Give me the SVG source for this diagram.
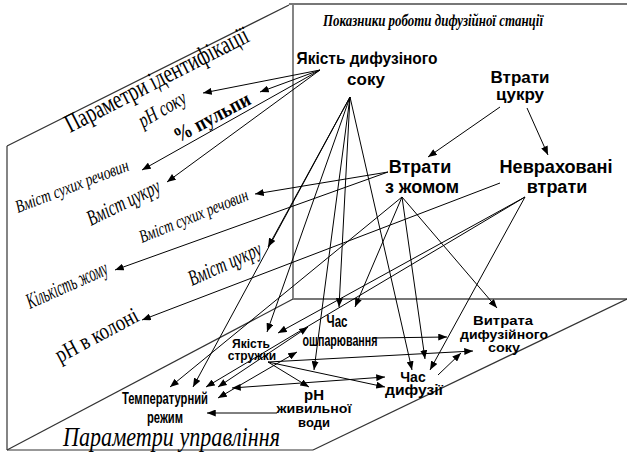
<svg xmlns="http://www.w3.org/2000/svg" width="627" height="453" viewBox="0 0 627 453">
<style>
.pl{stroke:#333;stroke-width:1.2;fill:none}
.pg{stroke:#777;stroke-width:2;fill:none}
.c line{stroke:#000;stroke-width:1;fill:none;marker-end:url(#ah)}
.c line.d{marker-start:url(#ah)}
.sr{font-family:"Liberation Serif","Times New Roman",serif;fill:#000}
.it{font-style:italic}
.ss{font-family:"Liberation Sans",Arial,sans-serif;font-weight:bold;fill:#000;text-anchor:middle}
</style>
<defs>
<marker id="ah" viewBox="0 0 10 8" refX="10" refY="4" markerWidth="9" markerHeight="7" markerUnits="userSpaceOnUse" orient="auto-start-reverse"><path d="M0,0 L10,4 L0,8 z" fill="#000"/></marker>
</defs>
<rect width="627" height="453" fill="#fff"/>
<g id="planes">
<line class="pl" x1="7" y1="146" x2="289" y2="5"/>
<line class="pg" x1="289" y1="4" x2="627" y2="4"/>
<line class="pl" x1="293" y1="5" x2="293" y2="299"/>
<line class="pl" x1="7" y1="146" x2="7" y2="450"/>
<line class="pl" x1="7" y1="450" x2="293" y2="299"/>
<line class="pg" x1="293" y1="299" x2="627" y2="299"/>
<line class="pl" x1="627" y1="299" x2="313" y2="450"/>
<line class="pl" x1="7" y1="450" x2="313" y2="450"/>
</g>
<g id="plane-labels">
<text class="sr it" font-weight="bold" font-size="17" x="323" y="26" textLength="220" lengthAdjust="spacingAndGlyphs">Показники роботи дифузійної станції</text>
<text class="sr" font-size="26" transform="translate(70,133) rotate(-27)" textLength="203" lengthAdjust="spacingAndGlyphs">Параметри ідентифікації</text>
<text class="sr it" font-size="28" x="63" y="446" textLength="217" lengthAdjust="spacingAndGlyphs">Параметри управління</text>
</g>
<g id="ident-labels">
<text class="sr it" font-size="21" transform="translate(143,128) rotate(-30)" textLength="52" lengthAdjust="spacingAndGlyphs">pH соку</text>
<text class="sr" font-weight="bold" font-size="21" transform="translate(178,143) rotate(-28)" textLength="84" lengthAdjust="spacingAndGlyphs">% пульпи</text>
<text class="sr it" font-size="18" transform="translate(18,213) rotate(-21)" textLength="120" lengthAdjust="spacingAndGlyphs">Вміст сухих речовин</text>
<text class="sr it" font-size="22" transform="translate(91,226) rotate(-26)" textLength="79" lengthAdjust="spacingAndGlyphs">Вміст цукру</text>
<text class="sr it" font-size="18" transform="translate(142,243) rotate(-22)" textLength="116" lengthAdjust="spacingAndGlyphs">Вміст сухих речовин</text>
<text class="sr it" font-size="22" transform="translate(30,309) rotate(-24)" textLength="87" lengthAdjust="spacingAndGlyphs">Кількість жому</text>
<text class="sr it" font-size="22" transform="translate(192,286) rotate(-24)" textLength="78" lengthAdjust="spacingAndGlyphs">Вміст цукру</text>
<text class="sr" font-size="23" transform="translate(60,363) rotate(-28)" textLength="91" lengthAdjust="spacingAndGlyphs">pH в колоні</text>
</g>
<g id="connectors" class="c">
<line x1="320" y1="70" x2="203" y2="93"/>
<line x1="320" y1="70" x2="260" y2="92"/>
<line x1="320" y1="70" x2="142" y2="170"/>
<line x1="320" y1="70" x2="167" y2="182"/>
<line x1="350" y1="97" x2="268" y2="247"/>
<line x1="350" y1="97" x2="193" y2="387"/>
<line x1="350" y1="97" x2="267" y2="332"/>
<line x1="350" y1="97" x2="339" y2="307"/>
<line x1="350" y1="97" x2="314" y2="370"/>
<line x1="350" y1="97" x2="412" y2="370"/>
<line x1="500" y1="107" x2="428" y2="157"/>
<line x1="527" y1="108" x2="548" y2="155"/>
<line x1="388" y1="172" x2="255" y2="194"/>
<line x1="388" y1="172" x2="115" y2="270"/>
<line x1="402" y1="197" x2="170" y2="387"/>
<line x1="402" y1="197" x2="355" y2="307"/>
<line x1="402" y1="197" x2="425" y2="359"/>
<line x1="402" y1="197" x2="497" y2="308"/>
<line x1="500" y1="183" x2="142" y2="320"/>
<line x1="525" y1="197" x2="206" y2="387"/>
<line x1="525" y1="197" x2="278" y2="333"/>
<line x1="525" y1="197" x2="430" y2="370"/>
<line class="d" x1="308" y1="327" x2="218" y2="387"/>
<line class="d" x1="297" y1="352" x2="218" y2="398"/>
<line class="d" x1="385" y1="377" x2="232" y2="388"/>
<line x1="372" y1="338" x2="447" y2="337"/>
<line x1="438" y1="375" x2="461" y2="353"/>
<line x1="277" y1="413" x2="207" y2="413"/>
<line x1="268" y1="362" x2="385" y2="387"/>
<line x1="268" y1="362" x2="309" y2="387"/>
<line x1="268" y1="362" x2="473" y2="351"/>
</g>
<g id="yakist-soku">
<text class="ss" font-size="17" x="367" y="64" textLength="141" lengthAdjust="spacingAndGlyphs">Якість дифузіного</text>
<text class="ss" font-size="17" x="366" y="85">соку</text>
</g>
<g id="vtraty-tsukru">
<text class="ss" font-size="17" x="520" y="83">Втрати</text>
<text class="ss" font-size="17" x="520" y="100">цукру</text>
</g>
<g id="vtraty-zhom">
<text class="ss" font-size="18" x="420" y="173">Втрати</text>
<text class="ss" font-size="18" x="422" y="193">з жомом</text>
</g>
<g id="nevrakhovani">
<text class="ss" font-size="18" x="556" y="173" textLength="113" lengthAdjust="spacingAndGlyphs">Невраховані</text>
<text class="ss" font-size="18" x="557" y="193">втрати</text>
</g>
<g id="yakist-struzhky">
<text class="ss" font-size="12" x="251" y="348">Якість</text>
<text class="ss" font-size="12" x="252" y="360">стружки</text>
</g>
<g id="chas-oshparyuvannya">
<text class="ss" font-size="16" x="337" y="327" textLength="21" lengthAdjust="spacingAndGlyphs">Час</text>
<text class="ss" font-size="16" x="340" y="346" textLength="75" lengthAdjust="spacingAndGlyphs">ошпарювання</text>
</g>
<g id="ph-vody">
<text class="ss" font-size="15" x="314" y="400">pH</text>
<text class="ss" font-size="13" x="314" y="413" textLength="75" lengthAdjust="spacingAndGlyphs">живильної</text>
<text class="ss" font-size="13" x="314" y="427">води</text>
</g>
<g id="temperaturnyi">
<text class="ss" font-size="16" x="165" y="404" textLength="86" lengthAdjust="spacingAndGlyphs">Температурний</text>
<text class="ss" font-size="16" x="165" y="423" textLength="36" lengthAdjust="spacingAndGlyphs">режим</text>
</g>
<g id="chas-dyfuzii">
<text class="ss" font-size="14" x="413" y="382">Час</text>
<text class="ss" font-size="14" x="414" y="395" textLength="58" lengthAdjust="spacingAndGlyphs">дифузії</text>
</g>
<g id="vytrata">
<text class="ss" font-size="13" x="503" y="325" textLength="60" lengthAdjust="spacingAndGlyphs">Витрата</text>
<text class="ss" font-size="13" x="504" y="339" textLength="88" lengthAdjust="spacingAndGlyphs">дифузійного</text>
<text class="ss" font-size="13" x="504" y="352" textLength="32" lengthAdjust="spacingAndGlyphs">соку</text>
</g>
</svg>
